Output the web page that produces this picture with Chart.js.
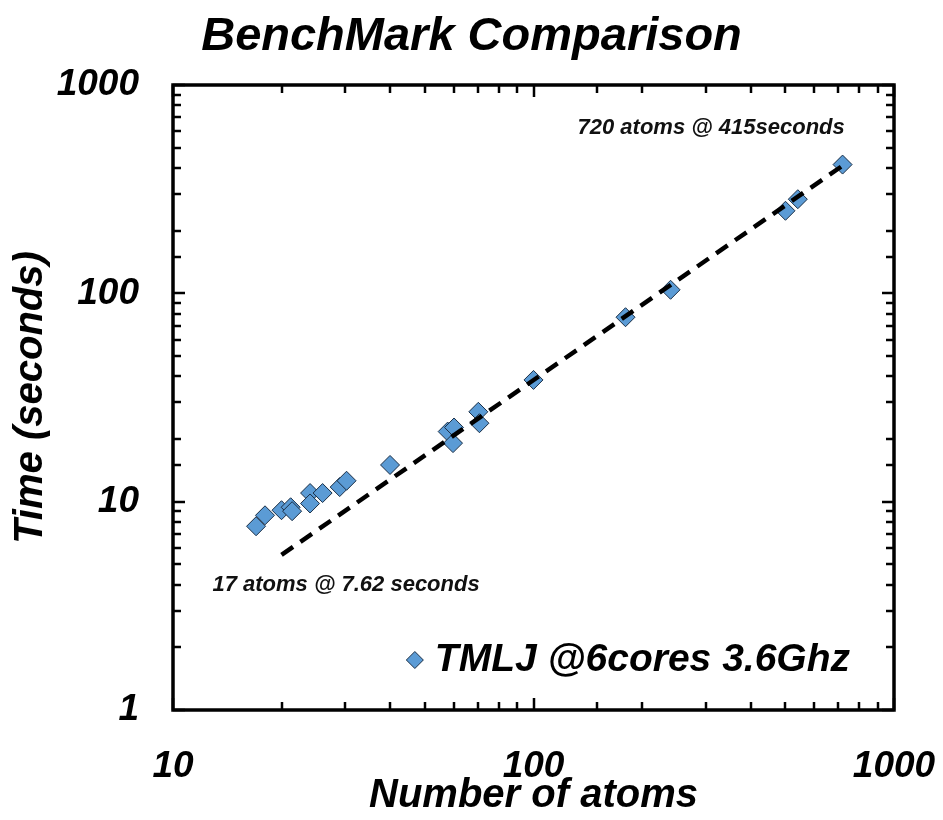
<!DOCTYPE html>
<html>
<head>
<meta charset="utf-8">
<title>BenchMark Comparison</title>
<script src="https://cdn.jsdelivr.net/npm/chart.js@4.4.1/dist/chart.umd.min.js"></script>
<style>
  body { margin: 0; background: #fff; }
  #wrap { width: 943px; height: 820px; }
</style>
</head>
<body>
<div id="wrap"><canvas id="benchChart" width="943" height="820"></canvas></div>
<script>
// measured runs (atoms, seconds)
const atoms = [17, 18, 20, 21.2, 21.4, 24, 24, 26, 29, 30.3, 40, 57.8, 60.2, 59.8, 70.3, 70.8, 100, 180, 240, 500, 541, 720];
const seconds = [7.62, 8.6, 9.1, 9.4, 9.0, 11.0, 9.8, 11.0, 11.75, 12.6, 15.0, 21.7, 22.7, 19.1, 27.0, 23.8, 38.4, 76.8, 104, 249, 283, 415];

// dashed fit line end points
const fitAtoms = [20, 720];
const fitSeconds = [5.55, 410];

const seriesName = 'TMLJ @6cores 3.6Ghz';
const xTicks = [10, 100, 1000];
const yTicks = [1, 10, 100, 1000];

const notes = [
  { text: '720 atoms @ 415seconds', atoms: 311, seconds: 622 },
  { text: '17 atoms @ 7.62 seconds', atoms: 30.2, seconds: 4.0 }
];

const FONT = "'Liberation Sans', Arial, sans-serif";

function isDecade(v) {
  const l = Math.log10(v);
  return Math.abs(l - Math.round(l)) < 1e-6;
}

// inward tick marks on all four sides + frame, notes and legend
const framePlugin = {
  id: 'framePlugin',
  afterDraw(chart) {
    const ctx = chart.ctx;
    const area = chart.chartArea;
    const xs = chart.scales.x;
    const ys = chart.scales.y;
    ctx.save();
    ctx.strokeStyle = '#000';
    ctx.lineWidth = 2.5;
    ctx.beginPath();
    xs.ticks.forEach(t => {
      const px = Math.round(xs.getPixelForValue(t.value));
      const len = isDecade(t.value) ? 12 : 8;
      ctx.moveTo(px, area.bottom); ctx.lineTo(px, area.bottom - len);
      ctx.moveTo(px, area.top); ctx.lineTo(px, area.top + len);
    });
    ys.ticks.forEach(t => {
      const py = Math.round(ys.getPixelForValue(t.value));
      const len = isDecade(t.value) ? 12 : 8;
      ctx.moveTo(area.left, py); ctx.lineTo(area.left + len, py);
      ctx.moveTo(area.right, py); ctx.lineTo(area.right - len, py);
    });
    ctx.stroke();
    ctx.lineWidth = 3.5;
    ctx.strokeRect(area.left, area.top, area.right - area.left, area.bottom - area.top);

    // text notes
    ctx.fillStyle = '#111';
    ctx.font = 'italic bold 22px ' + FONT;
    ctx.textAlign = 'center';
    ctx.textBaseline = 'middle';
    notes.forEach(n => {
      ctx.fillText(n.text, xs.getPixelForValue(n.atoms), ys.getPixelForValue(n.seconds));
    });

    // legend inside the plot, bottom right
    const ds = chart.data.datasets.find(d => d.label === seriesName);
    ctx.font = 'italic bold 39px ' + FONT;
    ctx.textAlign = 'right';
    const tx = area.right - 44;
    const ty = area.bottom - 50;
    ctx.fillStyle = '#000';
    ctx.fillText(seriesName, tx, ty);
    const w = ctx.measureText(seriesName).width;
    const mx = tx - w - 20;
    const r = 8.5;
    ctx.beginPath();
    ctx.moveTo(mx - r, ty); ctx.lineTo(mx, ty - r); ctx.lineTo(mx + r, ty); ctx.lineTo(mx, ty + r);
    ctx.closePath();
    ctx.fillStyle = ds.backgroundColor;
    ctx.fill();
    ctx.lineWidth = 1;
    ctx.strokeStyle = ds.borderColor;
    ctx.stroke();
    ctx.restore();
  }
};

const ctx = document.getElementById('benchChart').getContext('2d');
const benchChart = new Chart(ctx, {
  type: 'scatter',
  data: {
    datasets: [{
      label: seriesName,
      data: atoms.map((a, i) => ({ x: a, y: seconds[i] })),
      pointStyle: 'rectRot',
      pointRadius: 9.5,
      backgroundColor: '#5b9bd5',
      borderColor: '#1a2e45',
      borderWidth: 1,
      order: 2
    }, {
      label: 'fit',
      data: fitAtoms.map((a, i) => ({ x: a, y: fitSeconds[i] })),
      showLine: true,
      pointRadius: 0,
      borderColor: '#000',
      borderWidth: 4.5,
      borderDash: [14, 9],
      fill: false,
      order: 1
    }]
  },
  options: {
    responsive: false,
    animation: false,
    layout: { padding: 0 },
    plugins: {
      legend: { display: false },
      tooltip: { enabled: false },
      title: {
        display: true,
        text: 'BenchMark Comparison',
        color: '#000',
        font: { family: FONT, size: 47, style: 'italic', weight: 'bold' },
        padding: { top: 9, bottom: 19.6 }
      }
    },
    scales: {
      x: {
        type: 'logarithmic',
        min: 10,
        max: 1000,
        afterFit: s => { s.height = 110; s.paddingLeft = 0; s.paddingRight = 49; },
        grid: { display: false, drawTicks: false },
        border: { display: false },
        ticks: {
          autoSkip: false,
          maxRotation: 0,
          padding: 35,
          color: '#000',
          font: { family: FONT, size: 37, style: 'italic', weight: 'bold' },
          callback: v => xTicks.includes(v) ? String(v) : ''
        },
        title: {
          display: true,
          text: 'Number of atoms',
          color: '#000',
          font: { family: FONT, size: 40, style: 'italic', weight: 'bold' },
          padding: { top: 0, bottom: 0 }
        }
      },
      y: {
        type: 'logarithmic',
        min: 1,
        max: 1000,
        afterFit: s => { s.width = 173; },
        grid: { display: false, drawTicks: false },
        border: { display: false },
        ticks: {
          autoSkip: false,
          padding: 34,
          color: '#000',
          font: { family: FONT, size: 37, style: 'italic', weight: 'bold' },
          callback: v => yTicks.includes(v) ? String(v) : ''
        },
        title: {
          display: true,
          text: 'Time (seconds)',
          color: '#000',
          font: { family: FONT, size: 40, style: 'italic', weight: 'bold' },
          padding: { top: 7, bottom: 0 }
        }
      }
    }
  },
  plugins: [framePlugin]
});
</script>
</body>
</html>
